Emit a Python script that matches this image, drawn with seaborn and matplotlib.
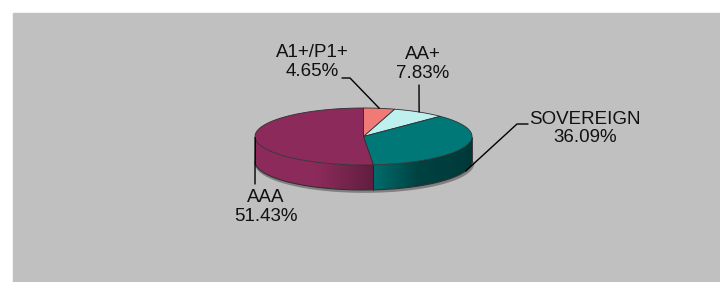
import numpy as np
import matplotlib
matplotlib.use("Agg")
import matplotlib.pyplot as plt
import seaborn as sns
from matplotlib.patches import Polygon, Rectangle
from matplotlib.colors import to_rgb

# portfolio rating mix
ratings = ["A1+/P1+", "AA+", "SOVEREIGN", "AAA"]
shares = [4.65, 7.83, 36.09, 51.43]
slice_colors = ["#F07A76", "#BFF0F0", "#007878", "#8C2B5B"]

sns.set_theme(style="white")
plt.rcParams['font.family'] = ['Liberation Sans', 'DejaVu Sans']
pal = sns.color_palette(slice_colors)

fig = plt.figure(figsize=(7.2, 2.82), dpi=100)
ax = fig.add_axes([0, 0, 1, 1])
ax.set_xlim(0, 720)
ax.set_ylim(282, 0)
ax.axis("off")
ax.add_patch(Rectangle((13, 13), 707, 269, color="#C0C0C0", zorder=0))

# pie geometry (pixels)
cx, cy, rx, ry, depth = 363.5, 136.5, 108.5, 28.5, 25


def rim(t, dy=0.0):
    return cx + rx * np.cos(t), cy - ry * np.sin(t) + dy


fracs = np.array(shares) / sum(shares)
bounds = np.pi / 2 - 2 * np.pi * np.concatenate([[0], np.cumsum(fracs)])


def slice_of(t):
    # which slice owns angle t (clockwise from the top)
    d = (np.pi / 2 - t) % (2 * np.pi)
    c = np.cumsum(fracs) * 2 * np.pi
    return int(np.searchsorted(c, d))


# shadow under the pie
ts = np.linspace(-np.pi, 0, 200)
sx, sy = rim(ts, depth + 1.5)
ax.plot(sx + 1, sy, color="#707070", lw=2.0, zorder=1, alpha=0.8)

# side wall: group the visible front half by slice
edges = np.linspace(-np.pi, 0, 721)
spans = {}
for t0, t1 in zip(edges[:-1], edges[1:]):
    k = slice_of((t0 + t1) / 2)
    spans.setdefault(k, []).append((t0, t1))

for k, strips in spans.items():
    lo, hi = strips[0][0], strips[-1][1]
    base = np.array(to_rgb(pal[k]))
    tt = np.linspace(lo, hi, 200)
    x1, y1 = rim(tt)
    x2, y2 = rim(tt[::-1], depth)
    wall = Polygon(np.column_stack([np.r_[x1, x2], np.r_[y1, y2]]),
                   facecolor="none", edgecolor="none")
    ax.add_patch(wall)
    # horizontal shading, computed per pixel column
    xa, xb = rim(lo)[0], rim(hi)[0]
    xs = np.linspace(xa, xb, 300)
    tm = -np.arccos(np.clip((xs - cx) / rx, -1, 1))
    u = (tm - lo) / (hi - lo)
    f = 0.45 + 0.55 * np.clip(np.cos(tm + 2.6), 0, None)
    f = np.minimum(1.0, f * (1 + 0.3 * (1 - u)))
    img = (base[None, :] * f[:, None])[None, :, :]
    ytop, ybot = cy - ry - 2, cy + ry + depth + 2
    im = ax.imshow(img, extent=(xa, xb, ybot, ytop), aspect="auto",
                   interpolation="bilinear", zorder=2)
    im.set_clip_path(wall)
    for t in (lo, hi):
        x, y = rim(t)
        ax.plot([x, x], [y, y + depth], color="#202020", lw=0.6, zorder=3)

ax.set_xlim(0, 720)
ax.set_ylim(282, 0)

bx, by = rim(ts, depth)
ax.plot(bx, by, color="#303030", lw=0.8, zorder=3)

# top face
for k in range(len(shares)):
    tt = np.linspace(bounds[k], bounds[k + 1], 100)
    x, y = rim(tt)
    pts = np.column_stack([np.r_[cx, x], np.r_[cy, y]])
    ax.add_patch(Polygon(pts, facecolor=pal[k], edgecolor="#303030",
                         lw=0.6, zorder=4))

# labels with leader lines
label_xy = [(312, 62), (423, 64), (585, 128.5), (266, 207)]
leader_from = [[(342, 78), (350, 78)], [(419, 85)], [(528, 124), (517, 124)], [(255, 184)]]
anchor_drop = [0, 0, depth, 0]
for k, name in enumerate(ratings):
    mid = (bounds[k] + bounds[k + 1]) / 2
    axp, ayp = rim(mid, anchor_drop[k])
    pts = leader_from[k] + [(axp, ayp)]
    ax.plot([p[0] for p in pts], [p[1] for p in pts], color="black", lw=1.0, zorder=5)
    ax.text(label_xy[k][0], label_xy[k][1], f"{name}\n{shares[k]:.2f}%",
            ha="center", va="center", multialignment="center",
            fontsize=13.5, color="#111111", linespacing=1.1, zorder=6)

fig.savefig("out.png", dpi=100)
